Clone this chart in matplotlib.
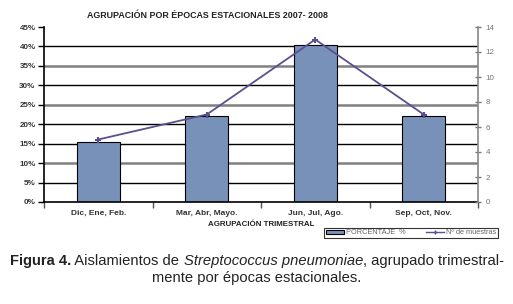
import numpy as np
import matplotlib
matplotlib.use('Agg')
import matplotlib.pyplot as plt
from matplotlib.lines import Line2D
from matplotlib.patches import Patch

# datos
categorias = ['Dic, Ene, Feb.', 'Mar, Abr, Mayo.', 'Jun, Jul, Ago.', 'Sep, Oct, Nov.']
porcentaje = [15.5, 22.0, 40.5, 22.0]
muestras = [5, 7, 13, 7]
ticks_pct = [0, 5, 10, 15, 20, 25, 30, 35, 40, 45]
ticks_n = [0, 2, 4, 6, 8, 10, 12, 14]
grid_gris = [10, 25, 35]

plt.rcParams['font.family'] = ['Liberation Sans', 'DejaVu Sans']

fig = plt.figure(figsize=(5.13, 3.04), dpi=100)
ax = fig.add_axes([44 / 513, 1 - 202 / 304, 434 / 513, 175 / 304])
x = np.arange(len(categorias))

# lineas de cuadricula
for t in ticks_pct[1:-1]:
    if t in grid_gris:
        ax.axhline(t, color='#808080', lw=1.8, zorder=0)
    else:
        ax.axhline(t, color='black', lw=1.0, zorder=0)

ax.bar(x, porcentaje, width=0.4, color='#7891b9', edgecolor='black', lw=0.8, zorder=2,
       label='PORCENTAJE  %')
ax.set_xlim(-0.5, len(categorias) - 0.5)
ax.set_ylim(0, 45)
ax.set_yticks(ticks_pct)
ax.set_yticklabels([f'{t}%' for t in ticks_pct], fontsize=5.8, fontweight='bold', color='#333333')
ax.set_xticks(x)
ax.set_xticklabels(categorias, fontsize=6, fontweight='bold', color='#333333')
ax.set_xticks(np.arange(len(categorias) + 1) - 0.5, minor=True)
ax.tick_params(axis='x', which='major', length=0, pad=6)
ax.tick_params(axis='x', which='minor', length=4, width=1, color='#555555')
ax.tick_params(axis='y', length=4, width=1, pad=2)
ax.spines['top'].set_visible(False)
ax.spines['right'].set_visible(False)
ax.spines['left'].set_linewidth(1.2)
ax.spines['bottom'].set_linewidth(1.2)
ax.set_xlabel('AGRUPACIÓN TRIMESTRAL', fontsize=5.7, fontweight='bold', color='#222222', labelpad=3)

ax2 = ax.twinx()
ax2.plot(x, muestras, color='#5b4f8e', lw=1.3, marker='+', markersize=5, mew=1.5, zorder=3,
         label='Nº de muestras')
ax2.set_ylim(0, 14)
ax2.set_yticks(ticks_n)
ax2.set_yticklabels([str(t) for t in ticks_n], fontsize=5.8, color='#777777')
ax2.tick_params(axis='y', direction='inout', length=5, width=1, color='#777777', pad=3)
for s in ['top', 'left', 'bottom']:
    ax2.spines[s].set_visible(False)
ax2.spines['right'].set_color('#888888')
ax2.spines['right'].set_linewidth(1.2)

fig.text(207 / 513, 1 - 16 / 304, 'AGRUPACIÓN POR ÉPOCAS ESTACIONALES 2007- 2008',
         fontsize=6.4, fontweight='bold', color='#222222', ha='center', va='center')

# leyenda
handles = [Patch(facecolor='#7891b9', edgecolor='black', lw=0.8),
           Line2D([0], [0], color='#5b4f8e', lw=1, marker='+', markersize=3)]
leg = fig.legend(handles, ['PORCENTAJE  %', 'Nº de muestras'], ncol=2,
                 loc='center', bbox_to_anchor=(411 / 513, 1 - 233 / 304),
                 fontsize=5.3, frameon=True, fancybox=False, edgecolor='black',
                 handlelength=2.5, handleheight=0.5, borderpad=0.2, columnspacing=2.8,
                 handletextpad=0.2)
leg.get_frame().set_linewidth(0.8)
for t in leg.get_texts():
    t.set_color('#666666')

# pie de figura
fig.canvas.draw()
r = fig.canvas.get_renderer()
partes = [('Figura 4.', 'bold', 'normal'),
          (' Aislamientos de ', 'normal', 'normal'),
          ('Streptococcus pneumoniae', 'normal', 'italic'),
          (', agrupado trimestral-', 'normal', 'normal')]
fs = 10.6
textos = []
for s, w, st in partes:
    t = fig.text(0, 1 - 261 / 304, s, fontsize=fs, fontweight=w, fontstyle=st,
                 color='#222222', va='center', ha='left')
    textos.append(t)
anchos = [t.get_window_extent(r).width for t in textos]
total = sum(anchos)
x0 = (514 - total) / 2
for t, a in zip(textos, anchos):
    t.set_x(x0 / 513)
    x0 += a
fig.text(0.5, 1 - 278 / 304, 'mente por épocas estacionales.', fontsize=fs,
         color='#222222', ha='center', va='center')

fig.savefig('out.png', dpi=100)
